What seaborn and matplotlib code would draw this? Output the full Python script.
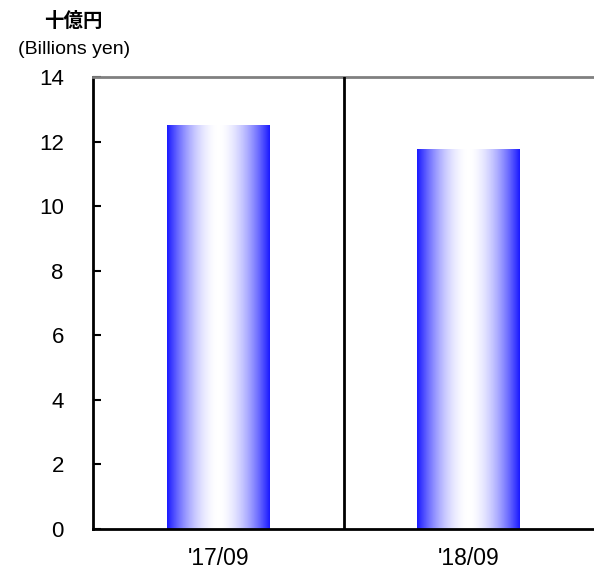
import numpy as np
import pandas as pd
import matplotlib
matplotlib.use("Agg")
import matplotlib.pyplot as plt
from matplotlib.colors import LinearSegmentedColormap
import seaborn as sns

categories = ["'17/09", "'18/09"]
values = [12.5, 11.75]
y_ticks = [0, 2, 4, 6, 8, 10, 12, 14]

sns.set_theme(style="white")
plt.rcParams['font.family'] = ['Liberation Sans', 'Noto Sans CJK JP', 'DejaVu Sans']
plt.rcParams['text.color'] = 'black'
plt.rcParams['xtick.color'] = 'black'
plt.rcParams['ytick.color'] = 'black'
plt.rcParams['axes.labelcolor'] = 'black'

df = pd.DataFrame({"period": categories, "value": values})

fig = plt.figure(figsize=(5.94, 5.74), dpi=100)
ax = fig.add_axes([0.1566, 0.0784, 0.8434, 0.7875])

sns.barplot(data=df, x="period", y="value", ax=ax, width=0.41, color="#1a1aff")

cmap = LinearSegmentedColormap.from_list("bw", ["#1a1aff", "#ffffff"])
t = np.linspace(-1, 1, 256)
grad = 1 - np.abs(t) ** 1.8
grad = grad[np.newaxis, :]
for p in list(ax.patches):
    x0, w, h = p.get_x(), p.get_width(), p.get_height()
    p.set_facecolor("none")
    p.set_edgecolor("none")
    ax.imshow(grad, extent=(x0, x0 + w, 0, h), aspect="auto", cmap=cmap,
              vmin=0, vmax=1, zorder=2, interpolation="bilinear")

ax.set_xlim(-0.5, 1.5)
ax.set_ylim(0, 14)
ax.set_yticks(y_ticks)
ax.set_yticklabels([str(v) for v in y_ticks], fontsize=16, color="black")
ax.set_xticks([0, 1])
ax.set_xticklabels(categories, fontsize=16.5, color="black")
ax.set_xlabel("")
ax.set_ylabel("")
ax.axvline(0.5, color="black", lw=2, zorder=3)

ax.tick_params(axis="y", direction="in", length=6, width=1.5, color="black",
               left=True, pad=21)
ax.tick_params(axis="x", length=0, pad=13)

for s in ["left", "bottom"]:
    ax.spines[s].set_color("black")
    ax.spines[s].set_linewidth(2)
ax.spines["top"].set_color("#808080")
ax.spines["top"].set_linewidth(2)
ax.spines["right"].set_visible(False)

fig.text(0.123, 0.963, "十億円", ha="center", va="center", fontsize=14,
         family=['Noto Sans CJK JP', 'DejaVu Sans'], fontweight="bold", color="black")
fig.text(0.125, 0.914, "(Billions yen)", ha="center", va="center", fontsize=14,
         color="black")

fig.savefig("out.png", dpi=100)
